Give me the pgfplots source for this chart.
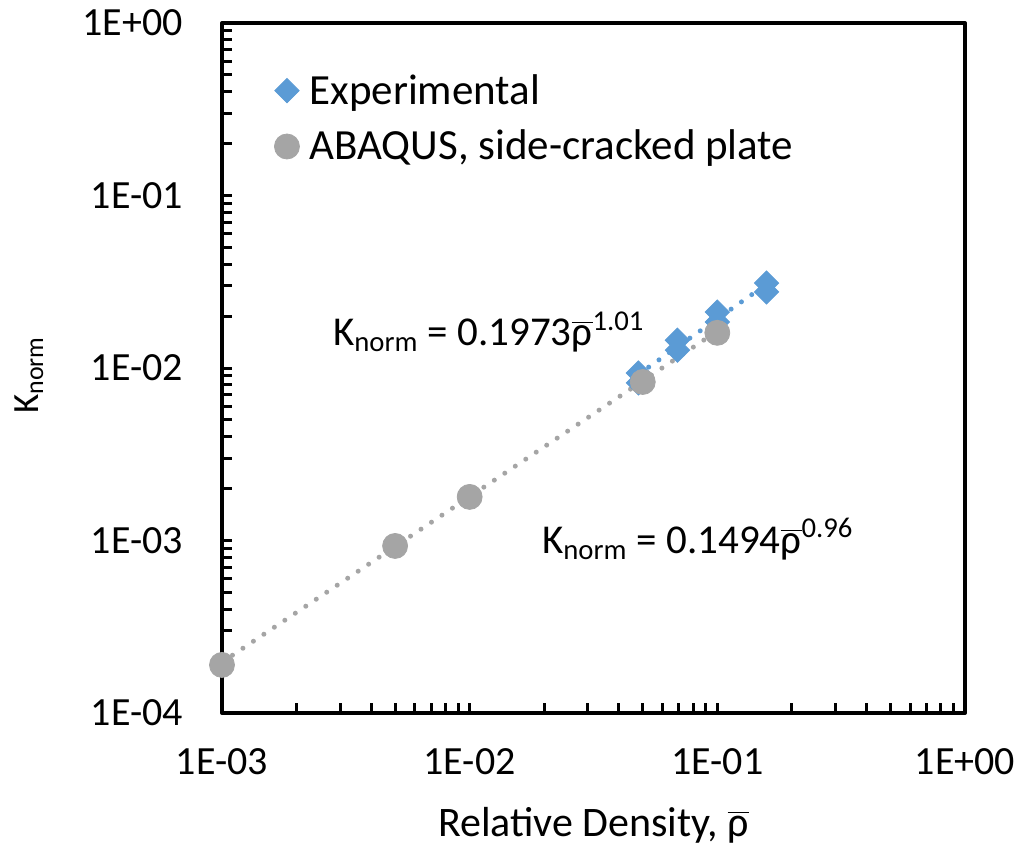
\documentclass[border=0pt]{standalone}
\usepackage{fontspec}
\setmainfont{Carlito}
\usepackage{pgfplots}
\pgfplotsset{compat=1.18}
\definecolor{expblue}{HTML}{5B9BD5}
\definecolor{abqgray}{HTML}{A5A5A5}
\newcommand\rhobar{\ensuremath{\overline{\hbox{ρ}}}}

\begin{document}
\begin{tikzpicture}
\begin{axis}[
  at={(0,0)}, anchor=south west,
  scale only axis, width=371.5pt, height=345pt,
  xmode=log, ymode=log,
  xmin=1e-3, xmax=1, ymin=1e-4, ymax=1,
  axis line style={line width=2pt, line join=round},
  tick align=inside,
  xtick pos=lower, ytick pos=left,
  major tick length=0pt, minor tick length=5pt,
  minor tick style={line width=1.5pt, black},
  xtick={1e-3,1e-2,1e-1,1}, xticklabels={1E-03,1E-02,1E-01,1E+00},
  ytick={1e-4,1e-3,1e-2,1e-1,1}, yticklabels={1E-04,1E-03,1E-02,1E-01,1E+00},
  ticklabel style={font=\fontsize{20}{24}\selectfont},
  xticklabel shift=14pt, yticklabel shift=16pt,
  xlabel={Relative Density, \rhobar},
  ylabel={K\textsubscript{norm}},
  xlabel style={font=\fontsize{21}{25}\selectfont,
    at={(axis description cs:0.5,0)}, anchor=base, yshift=-61.5pt},
  ylabel style={font=\fontsize{18.5}{22}\selectfont,
    at={(axis description cs:-0.2476,0.49)}, anchor=base},
  legend cell align=left,
  legend style={draw=none, fill=none, font=\fontsize{21.5}{25}\selectfont,
    at={(axis description cs:0.062,0.938)}, anchor=north west,
    row sep=7.5pt, nodes={inner xsep=5pt}},
]
% measured fracture toughness
\addplot[only marks, mark=square*, mark size=4.3pt, expblue,
  mark options={rotate=45, draw=none, fill=expblue}]
  coordinates {
    (0.048,9.35e-3) (0.048,8.2e-3)
    (0.069,1.45e-2) (0.069,1.27e-2)
    (0.1,2.11e-2)   (0.1,1.85e-2)
    (0.158,3.11e-2) (0.158,2.76e-2)
  };
\addlegendentry{Experimental}
% finite element results
\addplot[only marks, mark=*, mark size=6.25pt, abqgray, mark options={draw=none, fill=abqgray}]
  coordinates {
    (0.001,1.9e-4) (0.005,9.3e-4) (0.01,1.79e-3) (0.05,8.3e-3) (0.1,1.6e-2)
  };
\addlegendentry{ABAQUS, side-cracked plate}
% power-law fits
\addplot[forget plot, expblue, line width=2.5pt, dash pattern=on 0pt off 6.3pt, line cap=round]
  coordinates {(0.048,9.19e-3) (0.16,0.0310)};
\addplot[forget plot, abqgray, line width=2.5pt, dash pattern=on 0pt off 6.3pt, line cap=round]
  coordinates {(0.001,1.970e-4) (0.1,0.01638)};
\node[anchor=base west, font=\fontsize{20.5}{24}\selectfont]
  at (axis description cs:0.1400,0.5333) {K\textsubscript{norm} = 0.1973\rhobar\textsuperscript{1.01}};
\node[anchor=base west, font=\fontsize{20.5}{24}\selectfont]
  at (axis description cs:0.4213,0.2319) {K\textsubscript{norm} = 0.1494\rhobar\textsuperscript{0.96}};
\end{axis}
\pgfresetboundingbox
\path (-111pt,-73pt) rectangle (400pt,356.5pt);
\end{tikzpicture}
\end{document}
